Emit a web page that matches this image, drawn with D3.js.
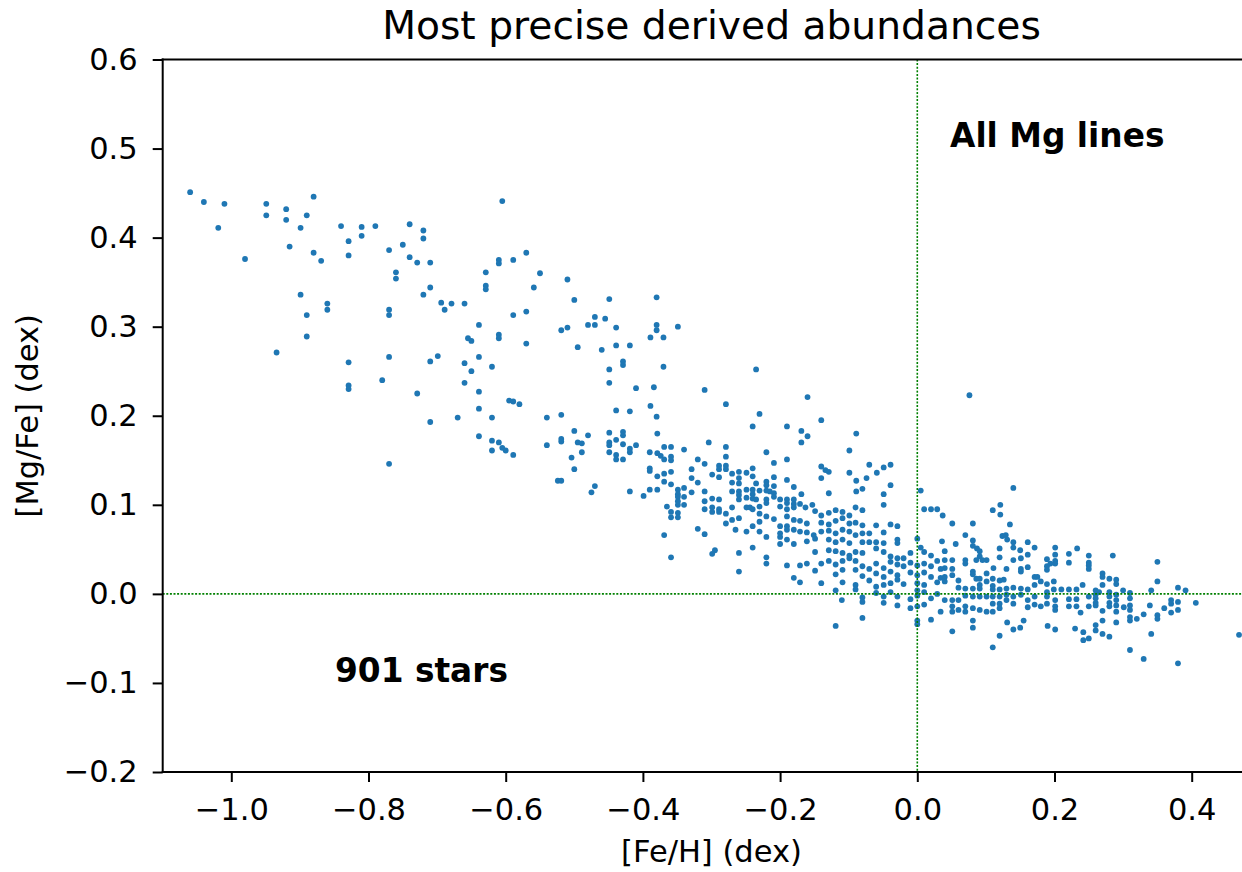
<!DOCTYPE html>
<html>
<head>
<meta charset="utf-8">
<script src="https://cdn.jsdelivr.net/npm/d3@7"></script>
<style>
  body { margin: 0; background: #fff; }
  svg { display: block; }
  text { font-family: "DejaVu Sans", sans-serif; fill: #000; }
</style>
</head>
<body>
<svg id="chart" width="1242" height="872"></svg>
<script>
// Axis ticks
const xTicks = [-1.0, -0.8, -0.6, -0.4, -0.2, 0.0, 0.2, 0.4];
const yTicks = [-0.2, -0.1, 0.0, 0.1, 0.2, 0.3, 0.4, 0.5, 0.6];

// [Fe/H], [Mg/Fe] per star, grouped by metallicity range
const starsMetalPoor = [
  [-1.060,0.451],[-1.040,0.440],[-1.010,0.438],[-1.019,0.411],[-0.980,0.376],[-0.949,0.438],[-0.949,0.425],
  [-0.920,0.432],[-0.920,0.420],[-0.880,0.446],[-0.890,0.425],[-0.899,0.411],[-0.915,0.390],[-0.880,0.383],
  [-0.869,0.374],[-0.840,0.413],[-0.829,0.396],[-0.829,0.380],[-0.810,0.412],[-0.810,0.402],[-0.790,0.413],
  [-0.770,0.386],[-0.760,0.361],[-0.760,0.354],[-0.750,0.392],[-0.740,0.415],[-0.740,0.378],[-0.729,0.372],
  [-0.720,0.408],[-0.720,0.399],[-0.720,0.336],[-0.899,0.336],[-0.890,0.313],[-0.890,0.289],[-0.860,0.326],
  [-0.860,0.319],[-0.934,0.271],[-0.829,0.260],[-0.829,0.234],[-0.829,0.230],[-0.770,0.319],[-0.770,0.313],
  [-0.770,0.266],[-0.780,0.240],[-0.729,0.225],[-0.770,0.146]
];

const starsThickDisc = [
  [-0.605,0.441],
  [-0.710,0.372],[-0.710,0.344],[-0.710,0.261],[-0.710,0.193],[-0.699,0.267],[-0.694,0.327],[-0.689,0.319],
  [-0.679,0.326],[-0.660,0.326],[-0.629,0.361],[-0.629,0.346],[-0.629,0.342],[-0.610,0.375],[-0.610,0.371],
  [-0.589,0.375],[-0.570,0.383],[-0.550,0.360],[-0.559,0.344],[-0.510,0.353],[-0.500,0.330],[-0.449,0.331],
  [-0.639,0.302],[-0.655,0.287],[-0.650,0.284],[-0.610,0.291],[-0.610,0.287],[-0.589,0.313],[-0.570,0.317],
  [-0.570,0.281],[-0.519,0.296],[-0.510,0.299],[-0.495,0.277],[-0.480,0.302],[-0.470,0.311],[-0.470,0.302],
  [-0.455,0.309],[-0.460,0.274],[-0.439,0.299],[-0.439,0.279],[-0.419,0.279],[-0.429,0.261],[-0.429,0.257],
  [-0.449,0.252],[-0.449,0.237],[-0.410,0.231],[-0.660,0.259],[-0.639,0.266],[-0.650,0.250],[-0.620,0.255],
  [-0.660,0.237],[-0.639,0.227],[-0.639,0.208],[-0.595,0.217],[-0.589,0.216],[-0.580,0.213],[-0.670,0.198],
  [-0.620,0.198],[-0.639,0.177],[-0.620,0.172],[-0.610,0.170],[-0.620,0.161],[-0.605,0.164],[-0.600,0.161],
  [-0.589,0.156],[-0.540,0.198],[-0.519,0.201],[-0.540,0.167],[-0.519,0.174],[-0.519,0.171],[-0.500,0.183],
  [-0.495,0.170],[-0.489,0.169],[-0.489,0.159],[-0.480,0.178],[-0.504,0.153],[-0.500,0.140],[-0.524,0.127],
  [-0.519,0.127],[-0.470,0.121],[-0.475,0.114],[-0.449,0.181],[-0.449,0.170],[-0.449,0.167],[-0.449,0.159],
  [-0.439,0.206],[-0.439,0.173],[-0.429,0.182],[-0.429,0.178],[-0.439,0.156],[-0.439,0.151],[-0.429,0.168],
  [-0.429,0.151],[-0.419,0.205],[-0.419,0.163],[-0.419,0.159],[-0.410,0.167],[-0.419,0.115],
  [-0.380,0.333],[-0.380,0.302],[-0.380,0.296],[-0.349,0.300],[-0.389,0.288],[-0.370,0.288],[-0.370,0.255],
  [-0.384,0.232],[-0.389,0.211],[-0.380,0.199],[-0.310,0.229],[-0.279,0.213],[-0.235,0.252],[-0.230,0.202]
];

const starsIntermediate = [
  [-0.379,0.180],[-0.304,0.170],[-0.240,0.188],[-0.190,0.188],[-0.279,0.165],[-0.369,0.165],[-0.359,0.165],
  [-0.340,0.162],[-0.390,0.159],[-0.379,0.158],[-0.374,0.155],[-0.369,0.151],[-0.359,0.154],[-0.359,0.150],
  [-0.220,0.159],[-0.279,0.154],[-0.320,0.151],[-0.310,0.146],[-0.190,0.151],[-0.209,0.147],[-0.289,0.144],
  [-0.279,0.144],[-0.289,0.140],[-0.279,0.140],[-0.390,0.141],[-0.390,0.138],[-0.329,0.140],[-0.359,0.137],
  [-0.369,0.135],[-0.240,0.141],[-0.260,0.137],[-0.249,0.136],[-0.270,0.135],[-0.299,0.134],[-0.289,0.131],
  [-0.379,0.132],[-0.329,0.130],[-0.240,0.132],[-0.260,0.130],[-0.190,0.128],[-0.209,0.131],[-0.369,0.126],
  [-0.359,0.123],[-0.320,0.125],[-0.270,0.125],[-0.260,0.124],[-0.220,0.126],[-0.220,0.122],[-0.235,0.124],
  [-0.209,0.121],[-0.390,0.117],[-0.379,0.117],[-0.340,0.119],[-0.349,0.117],[-0.349,0.112],[-0.349,0.109],
  [-0.349,0.104],[-0.329,0.114],[-0.310,0.115],[-0.270,0.115],[-0.260,0.115],[-0.260,0.111],[-0.249,0.117],
  [-0.240,0.117],[-0.240,0.112],[-0.230,0.116],[-0.220,0.116],[-0.215,0.115],[-0.209,0.113],[-0.209,0.109],
  [-0.180,0.120],[-0.399,0.110],[-0.340,0.109],[-0.299,0.107],[-0.289,0.106],[-0.310,0.104],[-0.260,0.106],
  [-0.249,0.108],[-0.240,0.107],[-0.235,0.106],[-0.220,0.106],[-0.220,0.102],[-0.200,0.106],[-0.190,0.106],
  [-0.190,0.102],[-0.180,0.106],[-0.180,0.101],[-0.365,0.098],[-0.349,0.100],[-0.340,0.100],[-0.310,0.095],
  [-0.299,0.097],[-0.289,0.095],[-0.270,0.097],[-0.249,0.097],[-0.244,0.097],[-0.240,0.095],[-0.230,0.098],
  [-0.200,0.098],[-0.190,0.095],[-0.180,0.097],[-0.359,0.092],[-0.349,0.091],[-0.299,0.092],[-0.289,0.092],
  [-0.279,0.090],[-0.230,0.090],[-0.220,0.087],[-0.190,0.087],[-0.180,0.083],[-0.359,0.086],[-0.349,0.086],
  [-0.260,0.085],[-0.270,0.083],[-0.230,0.081],[-0.209,0.084],[-0.279,0.079],[-0.240,0.076],[-0.249,0.070],
  [-0.200,0.076],[-0.190,0.076],[-0.190,0.072],[-0.180,0.072],[-0.320,0.073],[-0.310,0.067],[-0.265,0.072],
  [-0.230,0.070],[-0.220,0.064],[-0.200,0.068],[-0.200,0.064],[-0.369,0.066],[-0.190,0.061],[-0.200,0.056],
  [-0.240,0.052],[-0.180,0.056],[-0.295,0.049],[-0.299,0.045],[-0.359,0.041],[-0.260,0.046],[-0.220,0.041],
  [-0.220,0.034],[-0.190,0.032],[-0.260,0.025],[-0.180,0.018]
];

const starsNearSolar = [
  [-0.160,0.221],[-0.140,0.195],[-0.169,0.183],[-0.169,0.170],[-0.160,0.177],[-0.089,0.180],[-0.099,0.161],
  [-0.140,0.143],[-0.134,0.139],[-0.129,0.137],[-0.140,0.130],[-0.099,0.136],[-0.070,0.145],[-0.059,0.136],
  [-0.049,0.142],[-0.039,0.145],[-0.089,0.127],[-0.074,0.130],[-0.089,0.115],[-0.080,0.118],[-0.039,0.122],
  [-0.129,0.113],[-0.049,0.112],[0.005,0.116],[-0.169,0.112],
  [-0.049,0.100],[0.010,0.095],[0.020,0.095],[0.029,0.095],
  [-0.171,0.101],[-0.163,0.097],[-0.153,0.100],[-0.149,0.093],[-0.140,0.088],[-0.129,0.091],[-0.119,0.094],
  [-0.109,0.092],[-0.099,0.088],[-0.090,0.097],[-0.080,0.094],
  [-0.171,0.082],[-0.161,0.079],[-0.140,0.080],[-0.129,0.078],[-0.119,0.082],[-0.109,0.085],[-0.099,0.079],
  [-0.090,0.080],[-0.080,0.077],[-0.060,0.077],[-0.039,0.078],[-0.029,0.076],
  [-0.171,0.070],[-0.161,0.069],[-0.151,0.066],[-0.140,0.070],[-0.129,0.071],[-0.119,0.068],[-0.109,0.072],
  [-0.099,0.070],[-0.090,0.066],[-0.080,0.068],[-0.070,0.068],[-0.049,0.069],[-0.029,0.061],
  [-0.161,0.059],[-0.149,0.062],[-0.129,0.061],[-0.119,0.058],[-0.109,0.061],[-0.099,0.057],[-0.080,0.058],
  [-0.070,0.058],[-0.060,0.058],[-0.049,0.057],[-0.029,0.057],[0.000,0.062],[0.005,0.052],
  [-0.149,0.047],[-0.129,0.049],[-0.119,0.048],[-0.109,0.046],[-0.099,0.043],[-0.090,0.047],[-0.080,0.046],
  [-0.060,0.051],[-0.049,0.047],[-0.039,0.042],[-0.029,0.040],[-0.020,0.040],[-0.010,0.046],[0.010,0.047],
  [0.020,0.043],
  [-0.171,0.032],[-0.161,0.034],[-0.140,0.034],[-0.129,0.037],[-0.119,0.033],[-0.109,0.037],[-0.099,0.040],
  [-0.090,0.037],[-0.080,0.031],[-0.070,0.028],[-0.060,0.034],[-0.049,0.029],[-0.039,0.036],[-0.029,0.033],
  [-0.020,0.031],[-0.010,0.035],[0.000,0.032],[0.010,0.034],[0.020,0.031],[0.029,0.037],
  [-0.149,0.026],[-0.119,0.022],[-0.109,0.027],[-0.090,0.027],[-0.080,0.020],[-0.060,0.023],[-0.049,0.019],
  [-0.039,0.025],[-0.029,0.021],[-0.010,0.024],[0.000,0.021],[0.010,0.024],[0.020,0.019],
  [-0.171,0.013],[-0.140,0.012],[-0.109,0.013],[-0.090,0.010],[-0.070,0.015],[-0.060,0.008],[-0.049,0.010],
  [-0.039,0.012],[-0.029,0.016],[-0.020,0.011],[0.000,0.012],[0.010,0.010],[0.029,0.013],
  [-0.119,0.004],[-0.090,0.005],[-0.080,-0.004],[-0.080,-0.009],[-0.060,0.001],[-0.049,-0.003],[-0.039,0.002],
  [-0.029,-0.003],[-0.010,-0.006],[0.000,0.004],[0.000,-0.002],[0.010,0.002],[0.020,-0.005],[0.029,0.000],
  [-0.110,-0.007],[-0.049,-0.010],[-0.029,-0.013],[-0.010,-0.016],[0.000,-0.014],[0.010,-0.012],
  [-0.080,-0.027],[0.000,-0.030],[-0.119,-0.036],[0.000,-0.034],[0.020,-0.029]
];

const starsMetalRich = [
  [0.076,0.223],[0.140,0.119],[0.037,0.088],[0.110,0.094],[0.121,0.100],[0.121,0.089],
  [0.051,0.079],[0.081,0.079],[0.135,0.078],[0.070,0.066],[0.124,0.065],[0.129,0.066],[0.131,0.061],
  [0.036,0.059],[0.056,0.056],[0.081,0.060],[0.081,0.054],[0.087,0.051],[0.091,0.048],[0.091,0.042],
  [0.140,0.058],[0.140,0.052],[0.161,0.058],[0.150,0.049],[0.161,0.044],[0.171,0.052],[0.201,0.052],
  [0.201,0.044],[0.201,0.037],[0.201,0.034],[0.221,0.045],[0.221,0.035],[0.233,0.051],[0.120,0.051],
  [0.120,0.041],[0.040,0.048],[0.040,0.038],[0.040,0.029],[0.051,0.038],[0.051,0.028],[0.051,0.021],
  [0.070,0.038],[0.070,0.034],[0.086,0.038],[0.095,0.038],[0.101,0.038],[0.111,0.029],[0.130,0.028],
  [0.140,0.038],[0.151,0.040],[0.151,0.028],[0.151,0.025],[0.161,0.030],[0.189,0.039],[0.189,0.031],
  [0.189,0.027],[0.194,0.034],[0.034,0.028],[0.034,0.018],[0.040,0.019],[0.040,0.014],[0.060,0.015],
  [0.060,0.007],[0.070,0.006],[0.070,-0.002],[0.081,0.025],[0.081,0.022],[0.086,0.017],[0.091,0.017],
  [0.091,0.010],[0.091,0.006],[0.101,0.023],[0.101,0.014],[0.110,0.017],[0.110,0.009],[0.120,0.015],
  [0.126,0.016],[0.081,0.006],[0.081,-0.003],[0.091,-0.003],[0.101,-0.003],[0.110,0.005],[0.110,-0.003],
  [0.110,-0.011],[0.120,0.005],[0.120,-0.003],[0.120,-0.011],[0.130,0.006],[0.130,-0.001],[0.130,-0.007],
  [0.140,0.007],[0.140,-0.003],[0.140,-0.011],[0.151,0.006],[0.151,-0.001],[0.161,0.005],[0.161,-0.007],
  [0.161,-0.015],[0.171,0.019],[0.171,0.010],[0.171,-0.003],[0.175,0.019],[0.180,0.014],[0.189,0.011],
  [0.189,0.002],[0.189,-0.003],[0.189,-0.011],[0.199,0.014],[0.199,0.005],[0.201,-0.007],[0.201,-0.014],
  [0.201,-0.018],[0.210,0.005],[0.221,0.005],[0.221,-0.006],[0.221,-0.014],[0.232,0.005],[0.232,-0.006],
  [0.232,-0.014],[0.180,-0.014],[0.171,-0.012],[0.034,-0.020],[0.040,-0.007],[0.051,-0.007],[0.051,-0.014],
  [0.051,-0.020],[0.060,-0.007],[0.070,-0.014],[0.070,-0.020],[0.060,-0.018],[0.081,-0.016],[0.091,-0.018],
  [0.101,-0.020],[0.110,-0.020],[0.120,-0.016],[0.081,-0.030],[0.081,-0.038],[0.051,-0.042],[0.131,-0.032],
  [0.140,-0.040],[0.150,-0.038],[0.155,-0.030],[0.120,-0.047],[0.110,-0.060],[0.190,-0.036],[0.201,-0.040],
  [0.230,-0.039],
  [0.241,0.010],[0.238,-0.021],[0.242,-0.043],[0.242,-0.052],[0.250,0.043],[0.250,0.035],[0.250,0.032],
  [0.250,0.028],[0.285,0.043],[0.270,0.023],[0.270,0.019],[0.270,0.010],[0.280,0.017],[0.290,0.016],
  [0.290,0.011],[0.350,0.036],[0.350,0.014],[0.260,0.004],[0.265,0.002],[0.250,-0.003],[0.260,-0.001],
  [0.260,-0.005],[0.260,-0.010],[0.260,-0.013],[0.250,-0.014],[0.280,0.002],[0.280,-0.003],[0.280,-0.010],
  [0.280,-0.014],[0.290,-0.001],[0.290,-0.007],[0.290,-0.013],[0.290,-0.020],[0.300,0.004],[0.310,0.001],
  [0.310,-0.005],[0.310,-0.013],[0.310,-0.018],[0.301,-0.015],[0.270,-0.019],[0.290,-0.032],[0.310,-0.026],
  [0.310,-0.030],[0.320,-0.028],[0.330,-0.023],[0.339,-0.013],[0.341,0.004],[0.350,-0.024],[0.350,-0.028],
  [0.360,-0.016],[0.370,-0.007],[0.370,-0.011],[0.380,-0.009],[0.370,-0.021],[0.380,-0.018],[0.380,0.007],
  [0.391,0.004],[0.406,-0.010],[0.341,-0.045],[0.310,-0.063],[0.330,-0.073],[0.380,-0.078],[0.469,-0.046],
  [0.260,-0.035],[0.260,-0.041],[0.270,-0.030],[0.270,-0.045],[0.280,-0.048],[0.250,-0.050]
];

const titleText = "Most precise derived abundances";
const xLabel = "[Fe/H] (dex)";
const yLabel = "[Mg/Fe] (dex)";
const linesNote = "All Mg lines";
const countNote = "901 stars";

const stars = [].concat(starsMetalPoor, starsThickDisc, starsIntermediate, starsNearSolar, starsMetalRich);

const plot = { left: 162.7, right: 1260.3, top: 59.5, bottom: 772 };

const x = d3.scaleLinear().domain([-1.1, 0.5]).range([plot.left, plot.right]);
const y = d3.scaleLinear().domain([-0.2, 0.6]).range([plot.bottom, plot.top]);

const svg = d3.select("#chart");

svg.append("defs").append("clipPath").attr("id", "plot-clip")
  .append("rect")
  .attr("x", plot.left).attr("y", plot.top)
  .attr("width", plot.right - plot.left).attr("height", plot.bottom - plot.top);

const fmt = d3.format(".1f");

// Scatter points
svg.append("g").attr("clip-path", "url(#plot-clip)")
  .selectAll("circle").data(stars).join("circle")
  .attr("cx", d => x(d[0]))
  .attr("cy", d => y(d[1]))
  .attr("r", 2.9)
  .attr("fill", "#1f77b4");

// Reference lines at solar values
const refs = svg.append("g").attr("clip-path", "url(#plot-clip)")
  .attr("stroke", "#008000").attr("stroke-width", 1.6).attr("stroke-dasharray", "2,1.6");
refs.append("line").attr("x1", plot.left).attr("x2", plot.right).attr("y1", y(0)).attr("y2", y(0));
refs.append("line").attr("x1", x(0)).attr("x2", x(0)).attr("y1", plot.top).attr("y2", plot.bottom);

// Axes
const xAxis = svg.append("g").attr("transform", `translate(0,${plot.bottom})`)
  .call(d3.axisBottom(x).tickValues(xTicks).tickFormat(fmt).tickSize(10).tickPadding(16));
const yAxis = svg.append("g").attr("transform", `translate(${plot.left},0)`)
  .call(d3.axisLeft(y).tickValues(yTicks).tickFormat(fmt).tickSize(10).tickPadding(15));

[xAxis, yAxis].forEach(g => {
  g.select(".domain").remove();
  g.selectAll(".tick line").attr("stroke", "#000").attr("stroke-width", 2);
  g.selectAll(".tick text").attr("font-size", 30.5).attr("font-family", "DejaVu Sans").attr("fill", "#000");
});

// Spines
const spines = svg.append("g").attr("stroke", "#000").attr("stroke-width", 2).attr("fill", "none");
spines.append("line").attr("x1", plot.left).attr("x2", plot.left).attr("y1", plot.top - 1).attr("y2", plot.bottom + 1);
spines.append("line").attr("x1", plot.left - 1).attr("x2", plot.right).attr("y1", plot.top).attr("y2", plot.top);
spines.append("line").attr("x1", plot.left - 1).attr("x2", plot.right).attr("y1", plot.bottom).attr("y2", plot.bottom);

// Titles and labels
svg.append("text").attr("x", (plot.left + plot.right) / 2).attr("y", 39)
  .attr("text-anchor", "middle").attr("font-size", 39.2).text(titleText);
svg.append("text").attr("x", (plot.left + plot.right) / 2).attr("y", 862)
  .attr("text-anchor", "middle").attr("font-size", 30.5).text(xLabel);
svg.append("text").attr("transform", `translate(38,${(plot.top + plot.bottom) / 2}) rotate(-90)`)
  .attr("text-anchor", "middle").attr("font-size", 30.5).text(yLabel);

// Annotations
svg.append("text").attr("x", 950).attr("y", 147)
  .attr("font-size", 32.8).attr("font-weight", "bold").text(linesNote);
svg.append("text").attr("x", 335).attr("y", 682)
  .attr("font-size", 32.8).attr("font-weight", "bold").text(countNote);
</script>
</body>
</html>
